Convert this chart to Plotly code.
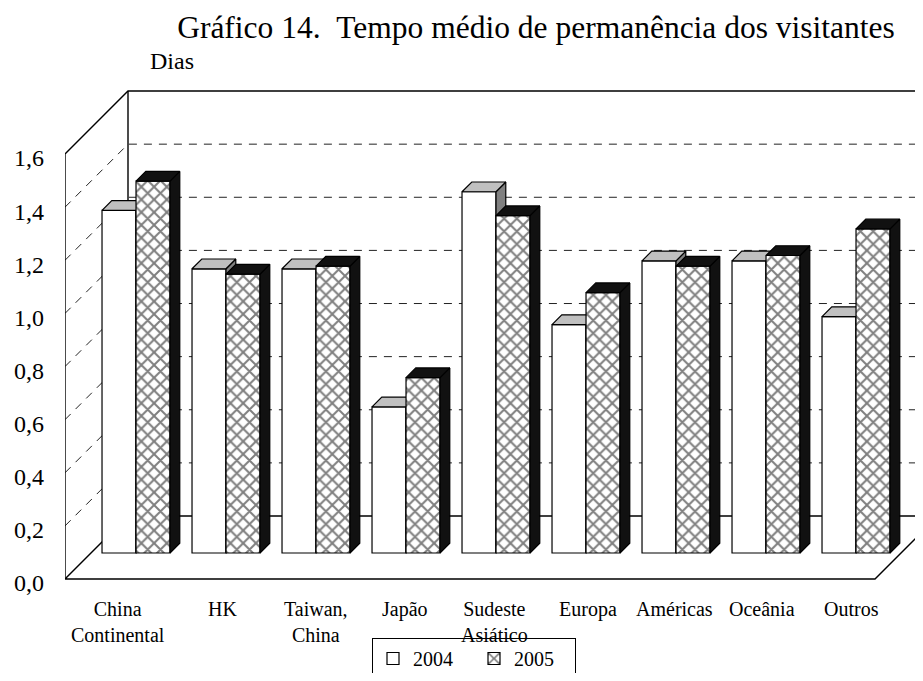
import plotly.graph_objects as go

# ---------------- data ----------------
categories = ["China<br>Continental", "HK", "Taiwan,<br>China", "Japão",
              "Sudeste<br>Asiático", "Europa", "Américas", "Oceânia", "Outros"]
series_names = ["2004", "2005"]
values_2004 = [1.29, 1.07, 1.07, 0.55, 1.36, 0.86, 1.10, 1.10, 0.89]
values_2005 = [1.40, 1.05, 1.08, 0.66, 1.27, 0.98, 1.08, 1.12, 1.22]
y_tick_values = [0.0, 0.2, 0.4, 0.6, 0.8, 1.0, 1.2, 1.4, 1.6]
y_tick_labels = ["0,0", "0,2", "0,4", "0,6", "0,8", "1,0", "1,2", "1,4", "1,6"]
title_text = "Gráfico 14.\u00a0\u00a0Tempo médio de permanência dos visitantes"
unit_text = "Dias"

# ---------------- layout / 3-D geometry constants ----------------
PAGE_W, PAGE_H = 923, 681
OFF = 8                                   # default page (body) margin
FIG_W, FIG_H = PAGE_W - 2 * OFF, PAGE_H - 2 * OFF
PLOT_L, PLOT_T, PLOT_B = 65 - OFF, 85 - OFF, 590 - OFF   # figure pixels
PX_PER_CAT = 90.0
PX_PER_UNIT = 265.6
ZERO_PX = 579 - OFF
DEPTH_PX = 63.0
DX = DEPTH_PX / PX_PER_CAT          # depth shift in category units
DY = DEPTH_PX / PX_PER_UNIT         # depth shift in value units
WALL_TOP = 1.6
BAR_FRONT = 0.413                    # depth of bar front face (0=front,1=back)
BAR_DEPTH = 0.155
BAR_W = 34.0 / PX_PER_CAT
FONT = "Liberation Serif"
label_nudge_px = [-18, -4, 0, -1, -2, 2, -2, -4, -5]

PLOT_W = FIG_W - PLOT_L
PLOT_H = PLOT_B - PLOT_T

n = len(categories)
x_lo, x_hi = -0.5, n - 0.5
x_range = [x_lo, x_lo + PLOT_W / PX_PER_CAT]
y_range = [-(PLOT_B - ZERO_PX) / PX_PER_UNIT, (ZERO_PX - PLOT_T) / PX_PER_UNIT]


def page_to_paper(px, py):
    return (px - OFF - PLOT_L) / PLOT_W, (PLOT_B - (py - OFF)) / PLOT_H


def page_to_container(px, py):
    return (px - OFF) / FIG_W, 1 - (py - OFF) / FIG_H


def proj(xc, v, d):
    return xc + d * DX, v + d * DY


def add_seg(xs, ys, pts):
    for p in pts:
        xs.append(p[0]); ys.append(p[1])
    xs.append(None); ys.append(None)


fig = go.Figure()

# ---------- layer 1: walls, floor, gridlines ----------
gx, gy = [], []
for v in y_tick_values[1:-1]:
    add_seg(gx, gy, [proj(x_lo, v, 0), proj(x_lo, v, 1), proj(x_hi, v, 1)])
fig.add_trace(go.Scatter(x=gx, y=gy, mode="lines", hoverinfo="skip",
                         line=dict(color="#222222", width=1, dash="8px,7px"),
                         showlegend=False, xaxis="x", yaxis="y"))

fx, fy = [], []
add_seg(fx, fy, [proj(x_lo, 0, 0), proj(x_lo, WALL_TOP, 0), proj(x_lo, WALL_TOP, 1),
                 proj(x_hi, WALL_TOP, 1), proj(x_hi, 0, 1)])
add_seg(fx, fy, [proj(x_lo, WALL_TOP, 1), proj(x_lo, 0, 1), proj(x_hi, 0, 1)])
add_seg(fx, fy, [proj(x_lo, 0, 1), proj(x_lo, 0, 0), proj(x_hi, 0, 0), proj(x_hi, 0, 1)])
fig.add_trace(go.Scatter(x=fx, y=fy, mode="lines", hoverinfo="skip",
                         line=dict(color="black", width=1.4),
                         showlegend=False, xaxis="x", yaxis="y"))

# ---------- bars ----------
y0 = BAR_FRONT * DY
bdx, bdy = BAR_DEPTH * DX, BAR_DEPTH * DY
centers = [i + BAR_FRONT * DX for i in range(n)]

series = [
    dict(name=series_names[0], vals=values_2004, off=-BAR_W, ax=("x2", "y2"),
         top="#C0C0C0", side="#808080", pattern=None),
    dict(name=series_names[1], vals=values_2005, off=0.0, ax=("x3", "y3"),
         top="#111111", side="#111111",
         pattern=dict(shape="x", size=9, solidity=0.4, fgcolor="black", bgcolor="white")),
]

for s in series:
    xa, ya = s["ax"]
    marker = dict(color="white", line=dict(color="black", width=1.2))
    if s["pattern"]:
        marker["pattern"] = s["pattern"]
    fig.add_trace(go.Bar(x=centers, y=s["vals"], base=y0, offset=s["off"], width=BAR_W,
                         name=s["name"], marker=marker, xaxis=xa, yaxis=ya,
                         hovertemplate="%{y:.2f}<extra>" + s["name"] + "</extra>"))
    tx, ty, sx, sy = [], [], [], []
    for c, v in zip(centers, s["vals"]):
        left = c + s["off"]
        right = left + BAR_W
        t = y0 + v
        add_seg(tx, ty, [(left, t), (right, t), (right + bdx, t + bdy), (left + bdx, t + bdy), (left, t)])
        add_seg(sx, sy, [(right, y0), (right + bdx, y0 + bdy), (right + bdx, t + bdy), (right, t), (right, y0)])
    fig.add_trace(go.Scatter(x=sx, y=sy, mode="lines", fill="toself", fillcolor=s["side"],
                             line=dict(color="black", width=1.2), hoverinfo="skip",
                             showlegend=False, xaxis=xa, yaxis=ya))
    fig.add_trace(go.Scatter(x=tx, y=ty, mode="lines", fill="toself", fillcolor=s["top"],
                             line=dict(color="black", width=1.2), hoverinfo="skip",
                             showlegend=False, xaxis=xa, yaxis=ya))

# ---------- category labels ----------
_, label_y = page_to_paper(0, 596)
for c, lab, nud in zip(centers, categories, label_nudge_px):
    fig.add_annotation(x=c, y=label_y, xref="x", yref="paper", text=lab, showarrow=False,
                       xanchor="center", yanchor="top", xshift=nud, align="center",
                       font=dict(family=FONT, size=20, color="black"))

ux, uy = page_to_paper(148, 61)
fig.add_annotation(x=ux, y=uy, xref="paper", yref="paper",
                   text=unit_text, showarrow=False, xanchor="left", yanchor="middle",
                   font=dict(family=FONT, size=24, color="black"))

tx_c, ty_c = page_to_container(536, 27)
lx_c, ly_c = page_to_container(474, 638)

ax_common = dict(range=x_range, visible=False, fixedrange=True)
ay_common = dict(range=y_range, visible=False, fixedrange=True)

fig.update_layout(
    width=FIG_W, height=FIG_H,
    margin=dict(l=PLOT_L, r=0, t=PLOT_T, b=FIG_H - PLOT_B, pad=0),
    paper_bgcolor="white", plot_bgcolor="white",
    barmode="overlay",
    title=dict(text=title_text, x=tx_c, xanchor="center", xref="container",
               y=ty_c, yanchor="middle", yref="container",
               font=dict(family=FONT, size=31.5, color="black")),
    xaxis=dict(range=x_range, showgrid=False, zeroline=False, showline=False,
               showticklabels=False, ticks="", fixedrange=True, automargin=False),
    yaxis=dict(range=y_range, showgrid=False, zeroline=False, showline=False,
               tickvals=y_tick_values, ticktext=y_tick_labels, ticks="",
               ticklabelstandoff=20, ticklabelshift=4, fixedrange=True, automargin=False,
               tickfont=dict(family=FONT, size=24, color="black")),
    xaxis2=dict(overlaying="x", anchor="y2", **ax_common),
    yaxis2=dict(overlaying="y", anchor="x2", **ay_common),
    xaxis3=dict(overlaying="x", anchor="y3", **ax_common),
    yaxis3=dict(overlaying="y", anchor="x3", **ay_common),
    legend=dict(orientation="h", xref="container", yref="container",
                x=lx_c, xanchor="center", y=ly_c, yanchor="top",
                bordercolor="black", borderwidth=1, bgcolor="white",
                font=dict(family=FONT, size=20, color="black"),
                itemwidth=30, entrywidth=56, entrywidthmode="pixels",
                tracegroupgap=0),
)

fig.write_html("out.html")
